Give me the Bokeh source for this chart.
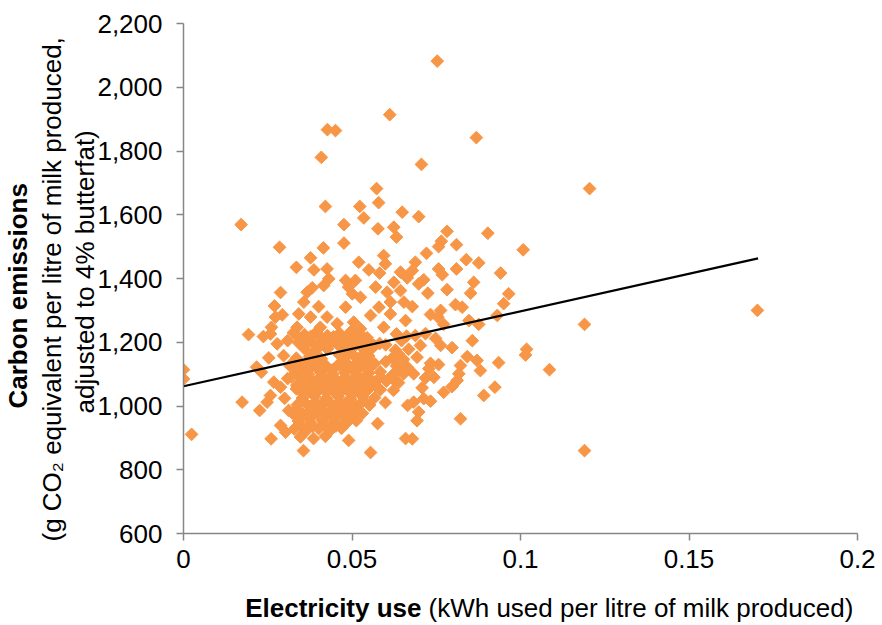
import numpy as np
from bokeh.plotting import figure
from bokeh.layouts import column
from bokeh.models import Range1d, FixedTicker, NumeralTickFormatter, Title
from bokeh.core.properties import value
from bokeh.embed import file_html
from bokeh.resources import INLINE

# ---------------- data ----------------
x_ticks = [0, 0.05, 0.1, 0.15, 0.2]
y_ticks = [600, 800, 1000, 1200, 1400, 1600, 1800, 2000, 2200]

x_title_bold = "Electricity use"
x_title_rest = "(kWh used per litre of milk produced)"
y_title_bold = "Carbon emissions"
y_title_line2 = "(g CO\u2082 equivalent per litre of milk produced,"
y_title_line3 = "adjusted to 4% butterfat)"

# (electricity kWh/L, carbon g CO2-eq/L)
farms_outlying = [
    (0.0753, 2082), (0.0612, 1914), (0.0427, 1867), (0.0451, 1864), (0.0869, 1842),
    (0.0409, 1780), (0.0706, 1758), (0.1205, 1682), (0.0573, 1682), (0.0579, 1638),
    (0.1703, 1300), (0.1190, 1256), (0.1086, 1114), (0.1190, 860), (0.1018, 1178),
    (0.1015, 1160),
]
farms_low_use = [
    (0.0171, 1569), (0.0285, 1498), (0.0288, 1356), (0.0270, 1314), (0.0293, 1286),
    (0.0273, 1279), (0.0261, 1247),
    (0.0, 1114), (0.0, 1085), (0.0193, 1224), (0.0237, 1218), (0.0258, 1226),
    (0.0278, 1195), (0.0253, 1151), (0.0217, 1122), (0.0231, 1106), (0.0297, 1158),
    (0.0268, 1075), (0.0288, 1059), (0.0258, 1033), (0.0248, 1012), (0.0174, 1012),
    (0.0226, 986), (0.0288, 939), (0.0303, 918), (0.0024, 911), (0.0260, 897),
    (0.0309, 1205), (0.0315, 1127), (0.0309, 1086), (0.0300, 1024), (0.0312, 986),
]
farms_upper_mid = [
    (0.0421, 1626), (0.0523, 1626), (0.0535, 1590), (0.0649, 1608), (0.0476, 1569),
    (0.0577, 1556), (0.0624, 1561), (0.0632, 1530), (0.0476, 1511), (0.0415, 1496),
    (0.0594, 1472), (0.0377, 1465), (0.0599, 1446), (0.0520, 1451), (0.0335, 1435),
    (0.0387, 1427), (0.0426, 1430), (0.0550, 1427), (0.0582, 1417), (0.0644, 1420),
    (0.0431, 1399), (0.0481, 1394), (0.0510, 1394), (0.0382, 1371), (0.0416, 1378),
    (0.0490, 1373), (0.0570, 1373), (0.0624, 1388), (0.0664, 1402), (0.0367, 1357),
    (0.0501, 1352), (0.0525, 1341), (0.0604, 1357), (0.0644, 1362), (0.0357, 1326),
    (0.0401, 1312), (0.0481, 1310), (0.0580, 1310), (0.0614, 1326), (0.0654, 1326),
    (0.0342, 1289), (0.0377, 1279), (0.0426, 1279), (0.0456, 1258), (0.0505, 1263),
    (0.0555, 1284), (0.0614, 1289), (0.0659, 1268), (0.0337, 1247), (0.0406, 1247),
    (0.0525, 1242), (0.0594, 1247),
]
farms_upper_high = [
    (0.0698, 1594), (0.0782, 1548), (0.0903, 1542), (0.0765, 1517), (0.0810, 1506),
    (0.0757, 1500), (0.1008, 1490), (0.0721, 1479), (0.0839, 1459), (0.0876, 1449),
    (0.0688, 1451), (0.0679, 1425), (0.0757, 1430), (0.0768, 1412), (0.0810, 1430),
    (0.0941, 1417), (0.0713, 1396), (0.0698, 1383), (0.0861, 1388), (0.0782, 1365),
    (0.0725, 1354), (0.0852, 1354), (0.0965, 1352), (0.0950, 1321), (0.0807, 1318),
    (0.0827, 1310), (0.0763, 1300), (0.0733, 1287), (0.0755, 1279), (0.0847, 1268),
    (0.0876, 1256), (0.0931, 1284), (0.0772, 1256), (0.0679, 1312),
]
farms_lower_high = [
    (0.0857, 1205), (0.0763, 1190), (0.0797, 1183), (0.0842, 1155), (0.0871, 1143),
    (0.0935, 1136), (0.0693, 1153), (0.0733, 1134), (0.0757, 1130), (0.0728, 1117),
    (0.0822, 1127), (0.0881, 1111), (0.0817, 1101), (0.0683, 1101), (0.0718, 1088),
    (0.0743, 1090), (0.0812, 1080), (0.0797, 1061), (0.0708, 1057), (0.0924, 1059),
    (0.0772, 1043), (0.0891, 1033), (0.0713, 1023), (0.0733, 1015), (0.0683, 1012),
    (0.0698, 981), (0.0693, 954), (0.0822, 960), (0.0679, 897),
    (0.0688, 1221), (0.0718, 1227), (0.0748, 1212), (0.0703, 1190),
]
farms_core = [
    (0.0326, 1230), (0.0359, 1224), (0.0395, 1232), (0.0427, 1221), (0.0463, 1228),
    (0.0496, 1233), (0.0528, 1222), (0.0632, 1226), (0.0662, 1219),
    (0.0341, 1199), (0.0377, 1206), (0.0409, 1197), (0.0445, 1204), (0.0478, 1208),
    (0.0513, 1198), (0.0549, 1203), (0.0582, 1196), (0.0647, 1205),
    (0.0359, 1180), (0.0392, 1174), (0.0427, 1179), (0.0475, 1172), (0.0501, 1181),
    (0.0537, 1176), (0.0561, 1183), (0.0629, 1175), (0.0668, 1178),
    (0.0335, 1150), (0.0374, 1155), (0.0409, 1148), (0.0481, 1154), (0.0516, 1149),
    (0.0549, 1157), (0.0620, 1151), (0.0653, 1146),
    (0.0320, 1129), (0.0353, 1124), (0.0389, 1131), (0.0424, 1125), (0.0460, 1130),
    (0.0496, 1122), (0.0531, 1128), (0.0567, 1133), (0.0632, 1126), (0.0665, 1121),
    (0.0338, 1104), (0.0371, 1099), (0.0406, 1106), (0.0442, 1100), (0.0478, 1105),
    (0.0513, 1098), (0.0549, 1103), (0.0584, 1107), (0.0620, 1097), (0.0653, 1101),
    (0.0353, 1079), (0.0389, 1074), (0.0424, 1081), (0.0460, 1076), (0.0496, 1072),
    (0.0531, 1080), (0.0567, 1075), (0.0602, 1078), (0.0638, 1073),
    (0.0335, 1054), (0.0371, 1049), (0.0406, 1055), (0.0442, 1050), (0.0478, 1056),
    (0.0513, 1048), (0.0549, 1053), (0.0584, 1051),
    (0.0353, 1025), (0.0389, 1030), (0.0424, 1024), (0.0460, 1029), (0.0496, 1023),
    (0.0531, 1031), (0.0567, 1026),
    (0.0338, 1004), (0.0374, 999), (0.0409, 1005), (0.0445, 1000), (0.0481, 1006),
    (0.0516, 998), (0.0552, 1003),
    (0.0323, 978), (0.0356, 973), (0.0392, 980), (0.0427, 975), (0.0463, 979),
    (0.0498, 972), (0.0531, 977),
    (0.0341, 953), (0.0377, 948), (0.0412, 955), (0.0448, 950), (0.0484, 947),
    (0.0513, 954),
    (0.0329, 928), (0.0365, 923), (0.0401, 929), (0.0436, 924), (0.0469, 930),
    (0.0347, 903), (0.0386, 898), (0.0421, 905),
    (0.0356, 860), (0.0490, 892), (0.0555, 854), (0.0576, 945), (0.0623, 1049),
    (0.0599, 1011), (0.0665, 1002), (0.0659, 898),
]
farms_core_fill = [
    (0.0343, 1214), (0.0377, 1218), (0.0411, 1213), (0.0445, 1217), (0.0480, 1212),
    (0.0512, 1216), (0.0545, 1214),
    (0.0358, 1191), (0.0393, 1188), (0.0428, 1192), (0.0461, 1189), (0.0495, 1193),
    (0.0530, 1187), (0.0565, 1190), (0.0600, 1192),
    (0.0390, 1163), (0.0463, 1160), (0.0498, 1165), (0.0533, 1161), (0.0637, 1164),
    (0.0338, 1138), (0.0372, 1141), (0.0405, 1137), (0.0478, 1140), (0.0514, 1136),
    (0.0550, 1142), (0.0600, 1139),
    (0.0335, 1115), (0.0370, 1112), (0.0405, 1116), (0.0442, 1113), (0.0478, 1117),
    (0.0514, 1111), (0.0548, 1115), (0.0640, 1113),
    (0.0320, 1091), (0.0371, 1088), (0.0407, 1092), (0.0443, 1087), (0.0479, 1090),
    (0.0514, 1093), (0.0549, 1089), (0.0585, 1091), (0.0620, 1086),
    (0.0336, 1065), (0.0372, 1062), (0.0408, 1066), (0.0443, 1063), (0.0480, 1061),
    (0.0515, 1067), (0.0550, 1064), (0.0570, 1062),
    (0.0352, 1041), (0.0388, 1038), (0.0424, 1042), (0.0460, 1039), (0.0497, 1037),
    (0.0530, 1043),
    (0.0356, 1015), (0.0391, 1012), (0.0427, 1016), (0.0463, 1013), (0.0499, 1011),
    (0.0534, 1017),
    (0.0339, 989), (0.0374, 986), (0.0410, 990), (0.0445, 987), (0.0480, 991),
    (0.0515, 985),
    (0.0340, 964), (0.0375, 961), (0.0410, 965), (0.0446, 962), (0.0480, 960),
    (0.0347, 939), (0.0383, 936), (0.0418, 940), (0.0452, 937),
]

# linear trend line as drawn in the reference
trend_x = [0.0, 0.1705]
trend_y = [1062, 1463]

# ---------------- figure ----------------
all_pts = (farms_outlying + farms_low_use + farms_upper_mid + farms_upper_high
           + farms_lower_high + farms_core + farms_core_fill)
xs = [pt[0] for pt in all_pts]
ys = [pt[1] for pt in all_pts]

FONT = "Liberation Sans"
FS = "26px"
AXIS_GREY = "#868686"
ORANGE = "#F79646"
W = 882
H_MAIN = 585
H_TITLE = 40
FRAME_L, FRAME_R = 183, 857

p = figure(width=W, height=H_MAIN, output_backend="svg", toolbar_location=None,
           x_range=Range1d(0, 0.2), y_range=Range1d(600, 2200),
           min_border_left=FRAME_L, min_border_right=W - FRAME_R, min_border_top=23,
           min_border_bottom=52)
p.outline_line_color = None
p.grid.visible = False
p.background_fill_color = "white"
p.border_fill_color = "white"

p.scatter(xs, ys, marker="square", size=9, angle=np.pi / 4,
          fill_color=ORANGE, line_color=ORANGE, line_width=1)
p.line(trend_x, trend_y, line_color="black", line_width=2.2)

for ax in (p.xaxis[0], p.yaxis[0]):
    ax.axis_line_color = AXIS_GREY
    ax.axis_line_width = 1.5
    ax.major_tick_line_color = AXIS_GREY
    ax.major_tick_line_width = 1.5
    ax.major_tick_in = 0
    ax.major_tick_out = 7
    ax.minor_tick_line_color = None
    ax.major_label_text_font = FONT
    ax.major_label_text_font_size = FS
    ax.major_label_text_color = "black"

p.xaxis[0].ticker = FixedTicker(ticks=x_ticks)
p.xaxis[0].formatter = NumeralTickFormatter(format="0.[00]")
p.xaxis[0].major_label_standoff = 9
p.yaxis[0].ticker = FixedTicker(ticks=y_ticks)
p.yaxis[0].formatter = NumeralTickFormatter(format="0,0")
p.yaxis[0].major_label_standoff = 14

# y-axis title: three stacked side titles (innermost first)
p.add_layout(Title(text=y_title_line3, align="left", offset=120,
                   text_font=FONT, text_font_size=FS, text_font_style="normal",
                   standoff=-10, text_color="black"), "left")
p.add_layout(Title(text=y_title_line2, align="left", offset=-8,
                   text_font=FONT, text_font_size=FS, text_font_style="normal",
                   standoff=11, text_color="black"), "left")
p.add_layout(Title(text=y_title_bold, align="left", offset=125,
                   text_font=FONT, text_font_size=FS, text_font_style="bold",
                   standoff=-6, text_color="black"), "left")

# x-axis title strip (its frame is aligned with the main frame by the column,
# so its x range is expressed in page pixels of that frame)
t = figure(width=W, height=H_TITLE, output_backend="svg", toolbar_location=None,
           x_range=Range1d(FRAME_L, FRAME_R), y_range=Range1d(0, H_TITLE),
           min_border_left=FRAME_L, min_border_right=W - FRAME_R, min_border_top=0,
           min_border_bottom=0)
t.axis.visible = False
t.grid.visible = False
t.outline_line_color = None
t.background_fill_color = "white"
t.border_fill_color = "white"
t.text(x=[421], y=[18], text=[x_title_bold], text_align="right",
       text_baseline="middle", text_font=value(FONT), text_font_size=FS,
       text_font_style="bold", text_color="black")
t.text(x=[428], y=[18], text=[x_title_rest], text_align="left",
       text_baseline="middle", text_font=value(FONT), text_font_size=FS,
       text_color="black")

open("out.html", "w").write(file_html(column(p, t, spacing=0), INLINE))
